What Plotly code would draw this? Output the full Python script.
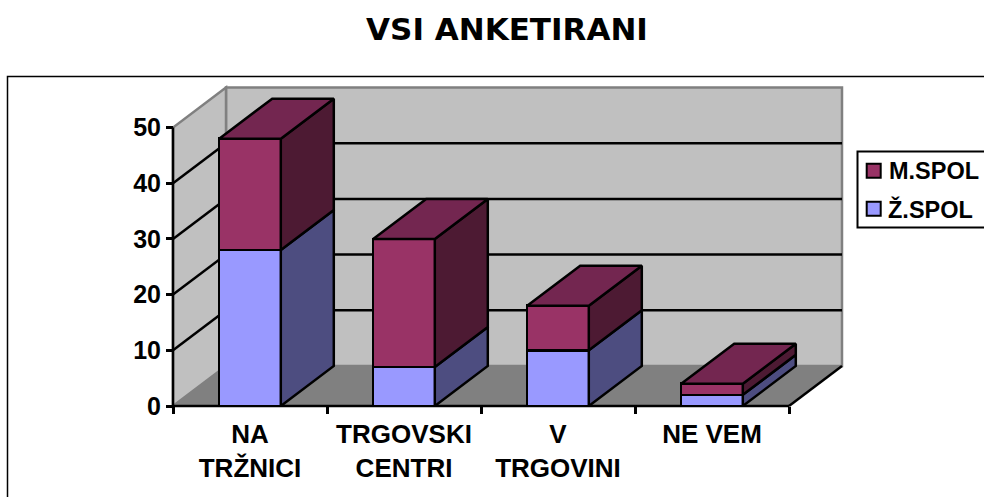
import plotly.graph_objects as go

categories = ["NA<br>TRŽNICI", "TRGOVSKI<br>CENTRI", "V<br>TRGOVINI", "NE VEM"]
zenske = [28, 7, 10, 2]
moski = [20, 23, 8, 2]
y_ticks = [0, 10, 20, 30, 40, 50]
name_z = "Ž.SPOL"
name_m = "M.SPOL"

W, H = 984, 497
X0, PX_CAT = 173.0, 154.0
Y0, PX_UNIT = 406.0, 5.57
DX, DY = 53 / PX_CAT, 40 / PX_UNIT
BAR = 0.4
LW = 2.5
NC = len(categories)
YMAX = y_ticks[-1]
centers = [i + 0.5 for i in range(NC)]

C_WALL, C_FLOOR, C_EDGE = "#C0C0C0", "#808080", "#808080"
F1, S1 = "#9999FF", "#4D4D80"
F2, S2, T2 = "#993366", "#4D1A33", "#732650"
FONT = "Liberation Sans, Arial, sans-serif"

fig = go.Figure()
fig.add_bar(x=centers, y=zenske, width=BAR, name=name_z, showlegend=False,
            marker=dict(color=F1, line=dict(color="black", width=LW)))
fig.add_bar(x=centers, y=moski, width=BAR, name=name_m, showlegend=False,
            marker=dict(color=F2, line=dict(color="black", width=LW)))


def poly(xs, ys, fill):
    fig.add_scatter(x=xs + xs[:1], y=ys + ys[:1], mode="lines", fill="toself", fillcolor=fill,
                    line=dict(color="black", width=LW), showlegend=False, hoverinfo="skip")


for c, a, b in zip(centers, zenske, moski):
    r = c + BAR / 2
    l = c - BAR / 2
    t = a + b
    poly([r, r + DX, r + DX, r], [0, DY, a + DY, a], S1)
    poly([r, r + DX, r + DX, r], [a, a + DY, t + DY, t], S2)
    poly([l, r, r + DX, l + DX], [t, t, t + DY, t + DY], T2)


def path(pts):
    return "M " + " L ".join(f"{x},{y}" for x, y in pts) + " Z"


def paper_rect(x0, y0, x1, y1, fill, width, layer="above"):
    return dict(type="rect", xref="paper", yref="paper", x0=x0 / W, x1=x1 / W, y0=1 - y1 / H, y1=1 - y0 / H,
                line=dict(color="black", width=width), fillcolor=fill, layer=layer)


shapes = [
    paper_rect(7.5, 76.5, 1100, 600, "rgba(0,0,0,0)", 1.5, "below"),
    dict(type="path", path=path([(DX, DY), (NC + DX, DY), (NC + DX, YMAX + DY), (DX, YMAX + DY)]),
         fillcolor=C_WALL, line=dict(color=C_EDGE, width=2.5), layer="below"),
    dict(type="path", path=path([(0, 0), (DX, DY), (DX, YMAX + DY), (0, YMAX)]),
         fillcolor=C_WALL, line=dict(color=C_EDGE, width=2.5), layer="below"),
    dict(type="path", path=path([(0, 0), (NC, 0), (NC + DX, DY), (DX, DY)]),
         fillcolor=C_FLOOR, line=dict(color=C_EDGE, width=1), layer="below"),
    dict(type="line", x0=NC, x1=NC + DX, y0=0, y1=DY, line=dict(color="black", width=LW), layer="below"),
    dict(type="line", x0=0, x1=0, y0=0, y1=YMAX, line=dict(color="black", width=LW), layer="below"),
    dict(type="line", x0=0, x1=NC, y0=0, y1=0, line=dict(color="black", width=LW), layer="below"),
    paper_rect(857.5, 151.5, 1100, 227.5, "white", 2),
    paper_rect(866.7, 163.7, 880.7, 177.7, F2, 2),
    paper_rect(866.7, 201.7, 880.7, 215.7, F1, 2),
]
for v in y_ticks[1:-1]:
    shapes.append(dict(type="line", x0=0, x1=DX, y0=v, y1=v + DY, line=dict(color="black", width=LW), layer="below"))
    shapes.append(dict(type="line", x0=DX, x1=NC + DX, y0=v + DY, y1=v + DY, line=dict(color="black", width=LW), layer="below"))

legend_font = dict(family=FONT, size=23.5, weight=700, color="black")
annotations = [
    dict(text=name_m, xref="paper", yref="paper", x=887 / W, y=1 - 170.5 / H, xanchor="left", yanchor="middle",
         showarrow=False, font=legend_font),
    dict(text=name_z, xref="paper", yref="paper", x=886 / W, y=1 - 209 / H, xanchor="left", yanchor="middle",
         showarrow=False, font=legend_font),
]

fig.update_layout(
    width=W, height=H, margin=dict(l=0, r=0, t=0, b=0, autoexpand=False), autosize=False,
    paper_bgcolor="white", plot_bgcolor="white", barmode="stack", shapes=shapes, annotations=annotations,
    showlegend=False,
    title=dict(text="VSI ANKETIRANI", x=507 / W, y=1 - 29 / H, xanchor="center", yanchor="middle",
               font=dict(family="DejaVu Sans", size=31, color="black", weight=700)),
    font=dict(family=FONT, color="black"),
    xaxis=dict(range=[-X0 / PX_CAT, (W - X0) / PX_CAT], domain=[0, 1], anchor="free", position=(H - Y0) / H,
               tickmode="array", tickvals=centers, ticktext=categories, ticks="", showline=False,
               showgrid=False, zeroline=False, ticklabelstandoff=10,
               tickfont=dict(family=FONT, size=26, weight=700, color="black"),
               minor=dict(tickmode="array", tickvals=list(range(NC + 1)), ticks="outside", ticklen=7, tickwidth=2.5,
                          tickcolor="black", showgrid=False)),
    yaxis=dict(range=[(Y0 - H) / PX_UNIT, Y0 / PX_UNIT], domain=[0, 1], anchor="free", position=X0 / W,
               tickmode="array", tickvals=y_ticks, ticks="outside", ticklen=7, tickwidth=2.5, tickcolor="black",
               showline=False, showgrid=False, zeroline=False,
               tickfont=dict(family=FONT, size=25, weight=700, color="black")),
)
fig.write_html("out.html", config=dict(displayModeBar=False),
               post_script="document.body.style.margin='0';document.documentElement.style.overflow='hidden';")
